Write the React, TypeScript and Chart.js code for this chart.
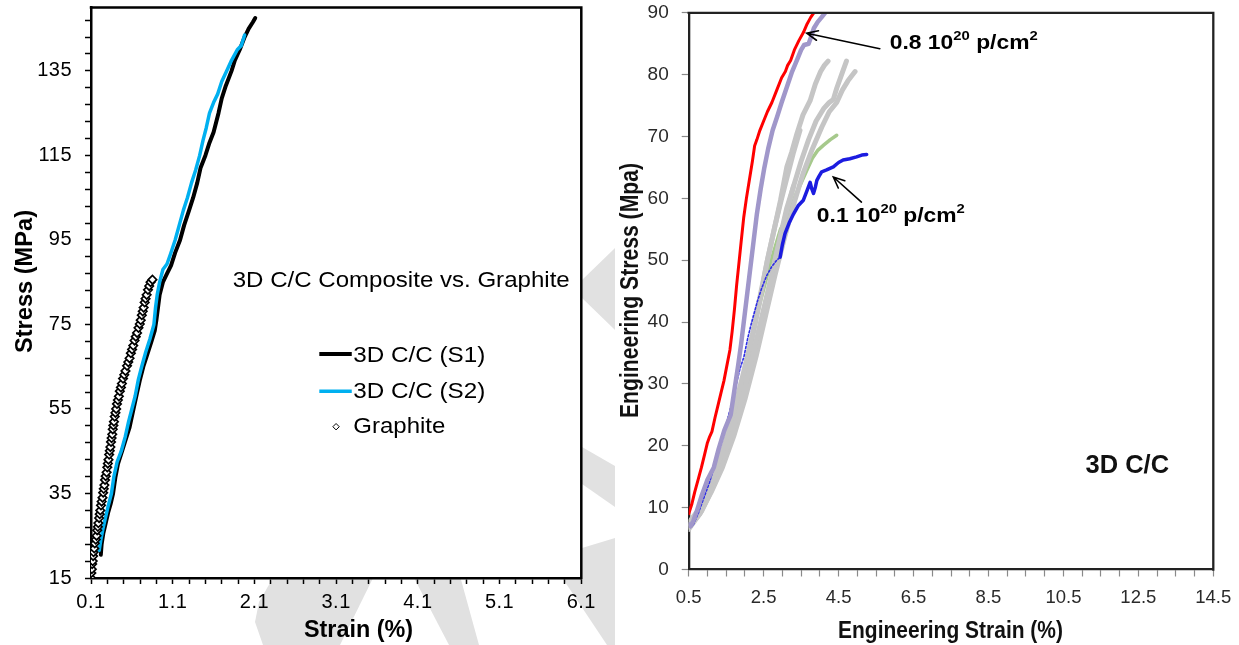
import React, { useEffect, useRef } from 'react';
import { Chart, registerables } from 'chart.js';

Chart.register(...registerables);

const FONT = '"Liberation Sans", Arial, Helvetica, sans-serif';

type P = [number, number];

// ---------------- Left chart data: [strain %, stress MPa] ----------------
const graphite: P[] = [
  [0.100, 15.0], [0.104, 16.2], [0.110, 17.1], [0.114, 18.3], [0.121, 19.0], [0.126, 20.2],
  [0.131, 21.1], [0.140, 22.0], [0.146, 23.2], [0.158, 24.1], [0.168, 25.0], [0.176, 26.3],
  [0.184, 27.1], [0.190, 28.0], [0.199, 29.2], [0.207, 30.1], [0.214, 31.0], [0.222, 32.2],
  [0.230, 33.1], [0.241, 34.0], [0.249, 35.2], [0.256, 36.1], [0.264, 37.0], [0.272, 38.2],
  [0.280, 39.1], [0.291, 40.0], [0.299, 41.2], [0.306, 42.1], [0.314, 43.0], [0.322, 44.2],
  [0.330, 45.1], [0.337, 46.0], [0.345, 47.2], [0.352, 48.1], [0.360, 49.0], [0.366, 50.2],
  [0.374, 51.1], [0.381, 52.0], [0.390, 53.2], [0.399, 54.1], [0.408, 55.0], [0.418, 56.2],
  [0.429, 57.1], [0.441, 58.0], [0.453, 59.2], [0.466, 60.1], [0.478, 61.0], [0.492, 62.2],
  [0.507, 63.1], [0.522, 64.0], [0.541, 65.2], [0.556, 66.1], [0.572, 67.0], [0.588, 68.2],
  [0.603, 69.1], [0.617, 70.0], [0.633, 71.2], [0.648, 72.1], [0.664, 73.0], [0.681, 74.2],
  [0.697, 75.1], [0.709, 76.0], [0.722, 77.2], [0.733, 78.1], [0.744, 79.0], [0.757, 80.2],
  [0.768, 81.1], [0.781, 82.0], [0.797, 83.2], [0.812, 84.1], [0.829, 85.0], [0.852, 85.6],
];

const s1: P[] = [
  [0.22, 20.5], [0.23, 23], [0.25, 25.5], [0.28, 28], [0.31, 30.5], [0.34, 32.5], [0.37, 35],
  [0.40, 39], [0.43, 42], [0.48, 45], [0.52, 47.5], [0.57, 50.5], [0.62, 55], [0.66, 58.5],
  [0.70, 62], [0.74, 65], [0.79, 68], [0.84, 71], [0.88, 73.5], [0.90, 76], [0.92, 79],
  [0.94, 82], [0.98, 85], [1.03, 87], [1.08, 89], [1.13, 92], [1.19, 95], [1.24, 98.5],
  [1.30, 102], [1.35, 105], [1.40, 108.5], [1.44, 112], [1.50, 115], [1.55, 118], [1.60, 120.5],
  [1.66, 125], [1.70, 128.5], [1.75, 131.5], [1.82, 135], [1.86, 137.5], [1.92, 140],
  [1.98, 143], [2.03, 145], [2.08, 146.5], [2.11, 147.5],
];

const s2: P[] = [
  [0.20, 21.5], [0.22, 24], [0.25, 27], [0.28, 29.5], [0.31, 32], [0.35, 35], [0.38, 39],
  [0.42, 42.5], [0.47, 45], [0.52, 48.5], [0.56, 52], [0.60, 55], [0.64, 58], [0.68, 62],
  [0.72, 65], [0.77, 68.5], [0.82, 71.5], [0.87, 75], [0.89, 79], [0.91, 82], [0.94, 85],
  [0.98, 88], [1.03, 89.3], [1.07, 91.5], [1.13, 95], [1.18, 98.5], [1.23, 102], [1.28, 105],
  [1.33, 108.5], [1.38, 111.5], [1.43, 115], [1.47, 118.5], [1.51, 121.5], [1.55, 125],
  [1.60, 127.5], [1.65, 129.5], [1.70, 132.5], [1.76, 135], [1.82, 137.5], [1.89, 140],
  [1.94, 141], [1.98, 143.5],
];

const leftXMajor = [0.1, 1.1, 2.1, 3.1, 4.1, 5.1, 6.1];
const leftXMinorStep = 0.2;
const leftYMajor = [15, 35, 55, 75, 95, 115, 135];
const leftYMinorStep = 4;
const leftYMax = 150;

// ---------------- Right chart data: [engineering strain %, stress MPa] ----------------
const red08: P[] = [
  [0.50, 9.0], [0.58, 10.5], [0.66, 12.5], [0.75, 14.5], [0.84, 16.5], [0.92, 18.5],
  [1.00, 20.5], [1.06, 21.5], [1.12, 22.3], [1.20, 24.5], [1.28, 26.5], [1.36, 28.5],
  [1.44, 30.5], [1.52, 33], [1.60, 35.5], [1.66, 38.5], [1.72, 42], [1.78, 46], [1.84, 49.5],
  [1.90, 53], [1.97, 57], [2.04, 60], [2.12, 63], [2.20, 66], [2.26, 68.5], [2.32, 69.5],
  [2.40, 71], [2.50, 72.5], [2.60, 74], [2.72, 75.5], [2.85, 77.5], [2.98, 79.5], [3.08, 80.5],
  [3.14, 81.5], [3.22, 82.3], [3.32, 84], [3.44, 85.5], [3.56, 86.8], [3.66, 88.2],
  [3.76, 89.3], [3.84, 90],
];

const purple08: P[] = [
  [0.50, 7.3], [0.55, 7.0], [0.62, 7.8], [0.72, 9.5], [0.85, 12], [1.00, 14.5], [1.17, 16.5],
  [1.30, 19.5], [1.45, 22.5], [1.62, 25], [1.72, 29], [1.82, 33], [1.90, 36.5], [1.97, 40],
  [2.05, 44], [2.13, 48], [2.22, 52.5], [2.32, 57.5], [2.42, 61.5], [2.52, 65], [2.62, 68],
  [2.74, 71], [2.86, 73.2], [2.98, 75.5], [3.12, 78], [3.26, 80.5], [3.40, 82.5], [3.50, 84],
  [3.58, 84.8], [3.70, 85], [3.76, 86], [3.84, 87.5], [3.94, 88.5], [4.05, 89.3], [4.14, 90],
];

const blueLow01: P[] = [
  [0.55, 6.8], [0.62, 7.2], [0.75, 9], [0.90, 11.5], [1.05, 14], [1.20, 17], [1.35, 20],
  [1.50, 23.5], [1.62, 26.2], [1.75, 29.5], [1.87, 32.5], [1.97, 34.3], [2.08, 37.5],
  [2.16, 39.5], [2.24, 41.3], [2.34, 43.5], [2.45, 45.5], [2.58, 47.5], [2.72, 49],
  [2.85, 50], [2.94, 50.5],
];

const blueHigh01: P[] = [
  [2.94, 50.5], [3.00, 52.5], [3.07, 54.3], [3.18, 56], [3.30, 57.5], [3.42, 58.8],
  [3.56, 59.7], [3.66, 61.3], [3.74, 62.6], [3.78, 61.6], [3.83, 60.8], [3.88, 61.8],
  [3.92, 62.9], [3.98, 63.6], [4.05, 64.3], [4.18, 64.6], [4.36, 65.1], [4.50, 65.8],
  [4.62, 66.2], [4.80, 66.4], [4.98, 66.7], [5.12, 67.0], [5.25, 67.1],
];

const green: P[] = [
  [0.55, 7.2], [0.90, 11], [1.30, 17], [1.70, 25], [2.05, 34], [2.40, 43], [2.70, 50],
  [2.95, 55], [3.21, 58], [3.35, 60.5], [3.50, 62.5], [3.65, 64.5], [3.80, 66.5],
  [3.95, 67.8], [4.10, 68.6], [4.28, 69.5], [4.45, 70.2],
];

const grey1: P[] = [
  [0.50, 7.5], [0.70, 9], [0.95, 12], [1.20, 15.5], [1.45, 20], [1.70, 25.5], [1.95, 31.5],
  [2.20, 38], [2.40, 44], [2.60, 50], [2.80, 55.5], [2.95, 59.7], [3.12, 65.1], [3.25, 67.5],
  [3.39, 70.5], [3.55, 73.5], [3.74, 75.8], [3.88, 78.5], [4.02, 80.5], [4.12, 81.5], [4.22, 82.2],
];
const grey2: P[] = [
  [0.50, 7], [0.75, 9], [1.00, 12], [1.30, 16], [1.60, 21], [1.90, 27], [2.15, 33],
  [2.40, 39.5], [2.65, 46], [2.90, 52.5], [3.10, 57.5], [3.30, 62], [3.50, 66], [3.70, 69.5],
  [3.90, 72.5], [4.10, 74.5], [4.25, 75.5], [4.36, 76], [4.45, 77.8], [4.58, 80], [4.71, 82.2],
];
const grey3: P[] = [
  [0.50, 6.8], [0.80, 9], [1.10, 12.5], [1.40, 16.5], [1.70, 21.5], [2.00, 27.5], [2.30, 34.5],
  [2.55, 41], [2.80, 47.5], [3.05, 53.5], [3.30, 59], [3.55, 64], [3.80, 68], [4.05, 71.5],
  [4.25, 74], [4.45, 75.5], [4.60, 77.5], [4.75, 79], [4.94, 80.5],
];
const grey4: P[] = [
  [0.50, 7.5], [0.80, 10], [1.10, 13.5], [1.40, 18], [1.65, 23], [1.90, 29], [2.15, 36],
  [2.40, 43.5], [2.60, 50], [2.80, 55.5], [2.98, 60], [3.15, 64], [3.30, 67.5], [3.47, 71],
];
const grey5: P[] = [
  [0.50, 6.5], [0.85, 9.5], [1.20, 14], [1.55, 19.5], [1.85, 25.5], [2.15, 32.5], [2.45, 40],
  [2.70, 47], [2.95, 54], [3.12, 58.5], [3.30, 62],
];

const rightXMajor = [0.5, 2.5, 4.5, 6.5, 8.5, 10.5, 12.5, 14.5];
const rightXMinorStep = 0.5;
const rightYMajor = [0, 10, 20, 30, 40, 50, 60, 70, 80, 90];

// ---------------- helpers ----------------
const xy = (a: P[]) => a.map(([x, y]) => ({ x, y }));

function stepTicks(min: number, max: number, step: number): number[] {
  const out: number[] = [];
  const n = Math.round((max - min) / step);
  for (let i = 0; i <= n; i++) out.push(Math.round((min + i * step) * 1000) / 1000);
  return out;
}
const isMajor = (v: number, majors: number[]) => majors.some((m) => Math.abs(m - v) < 1e-6);

function fitText(
  ctx: CanvasRenderingContext2D, text: string, x: number, y: number, font: string,
  targetW: number, align: CanvasTextAlign, color: string, rotate = false,
) {
  ctx.save();
  ctx.font = font;
  const w = ctx.measureText(text).width;
  ctx.translate(x, y);
  if (rotate) ctx.rotate(-Math.PI / 2);
  ctx.scale(targetW / w, 1);
  ctx.textAlign = align;
  ctx.textBaseline = 'alphabetic';
  ctx.fillStyle = color;
  ctx.fillText(text, 0, 0);
  ctx.restore();
}

type Seg = { t: string; sup?: boolean };
function richText(ctx: CanvasRenderingContext2D, segs: Seg[], x: number, y: number, size: number, supSize: number, raise: number, targetW: number) {
  ctx.save();
  const fm = `bold ${size}px ${FONT}`;
  const fs = `bold ${supSize}px ${FONT}`;
  let total = 0;
  const ws = segs.map((s) => { ctx.font = s.sup ? fs : fm; const w = ctx.measureText(s.t).width; total += w; return w; });
  ctx.translate(x, y);
  ctx.scale(targetW / total, 1);
  ctx.textAlign = 'left';
  ctx.textBaseline = 'alphabetic';
  ctx.fillStyle = '#000';
  let cx = 0;
  segs.forEach((s, i) => { ctx.font = s.sup ? fs : fm; ctx.fillText(s.t, cx, s.sup ? -raise : 0); cx += ws[i]; });
  ctx.restore();
}

function arrow(ctx: CanvasRenderingContext2D, x1: number, y1: number, x2: number, y2: number) {
  const ang = Math.atan2(y2 - y1, x2 - x1);
  const L = 12, A = 0.42;
  ctx.save();
  ctx.strokeStyle = '#000';
  ctx.lineWidth = 1.6;
  ctx.lineCap = 'round';
  ctx.beginPath();
  ctx.moveTo(x1, y1); ctx.lineTo(x2, y2);
  ctx.moveTo(x2 - L * Math.cos(ang - A), y2 - L * Math.sin(ang - A));
  ctx.lineTo(x2, y2);
  ctx.lineTo(x2 - L * Math.cos(ang + A), y2 - L * Math.sin(ang + A));
  ctx.stroke();
  ctx.restore();
}

function boxTopRight(chart: any, color: string, width: number) {
  const { ctx, chartArea: a } = chart;
  ctx.save();
  ctx.strokeStyle = color;
  ctx.lineWidth = width;
  ctx.beginPath();
  ctx.moveTo(a.left - width / 2, a.top);
  ctx.lineTo(a.right, a.top);
  ctx.lineTo(a.right, a.bottom + width / 2);
  ctx.stroke();
  ctx.restore();
}

const noScalePad = (s: any) => {
  s.paddingTop = 0;
  s.paddingBottom = 0;
  s.paddingLeft = 0;
  s.paddingRight = 0;
};

// page watermark (light grey bands behind the figures)
const WATERMARK: P[][] = [
  [[263, 645], [255, 622], [259, 602], [274, 576], [374, 576], [340, 645]],
  [[413, 576], [460, 576], [479, 645], [449, 645]],
  [[582, 280], [615, 248], [615, 330], [582, 298]],
  [[582, 447], [615, 466], [615, 507], [582, 484]],
  [[561, 576], [582, 548], [615, 538], [615, 645], [607, 645]],
];

// ---------------- Left chart ----------------
function leftConfig(): any {
  const xTicks = stepTicks(leftXMajor[0], leftXMajor[leftXMajor.length - 1], leftXMinorStep);
  const yTicks = stepTicks(leftYMajor[0], leftYMax - 3, leftYMinorStep);
  const plugin = {
    id: 'leftDecor',
    beforeDraw(chart: any) {
      const { ctx, chartArea: a } = chart;
      ctx.save();
      ctx.fillStyle = '#e1e1e1';
      for (const poly of WATERMARK) {
        ctx.beginPath();
        poly.forEach(([x, y], i) => (i ? ctx.lineTo(x, y) : ctx.moveTo(x, y)));
        ctx.closePath();
        ctx.fill();
      }
      ctx.fillStyle = '#fff';
      ctx.fillRect(a.left, a.top, a.right - a.left, a.bottom - a.top);
      ctx.restore();
      (ctx as any).letterSpacing = '0.5px';
    },
    afterDraw(chart: any) {
      const { ctx } = chart;
      (ctx as any).letterSpacing = '0px';
      boxTopRight(chart, '#000', 2.5);
      const xs = chart.scales.x, ys = chart.scales.y;
      const px = (v: number) => xs.getPixelForValue(v);
      const py = (v: number) => ys.getPixelForValue(v);
      // annotation
      fitText(ctx, '3D C/C Composite vs. Graphite', px(1.834), py(83.9), `22px ${FONT}`, 337, 'left', '#000');
      // legend
      const ds = chart.data.datasets;
      const rows = [
        { d: ds[2], ly: 68.0, ty: 66.1, w: 132 },
        { d: ds[1], ly: 59.2, ty: 57.5, w: 132 },
        { d: ds[0], ly: 50.8, ty: 49.2, w: 92 },
      ];
      rows.forEach((r) => {
        ctx.save();
        if (r.d.showLine) {
          ctx.strokeStyle = r.d.borderColor;
          ctx.lineWidth = r.d.borderWidth;
          ctx.beginPath();
          ctx.moveTo(px(2.894), py(r.ly));
          ctx.lineTo(px(3.291), py(r.ly));
          ctx.stroke();
        } else {
          const cx = px(3.099), cy = py(r.ly), s = 3.2;
          ctx.fillStyle = '#fff';
          ctx.strokeStyle = '#000';
          ctx.lineWidth = 1;
          ctx.beginPath();
          ctx.moveTo(cx, cy - s); ctx.lineTo(cx + s, cy); ctx.lineTo(cx, cy + s); ctx.lineTo(cx - s, cy);
          ctx.closePath();
          ctx.fill(); ctx.stroke();
        }
        ctx.restore();
        fitText(ctx, r.d.label, px(3.31), py(r.ty), `22px ${FONT}`, r.w, 'left', '#000');
      });
      // axis titles
      fitText(ctx, 'Stress (MPa)', 31.5, 281.5, `bold 24px ${FONT}`, 143, 'center', '#000', true);
      fitText(ctx, 'Strain (%)', 358.5, 637.3, `bold 24px ${FONT}`, 109, 'center', '#000');
    },
  };
  return {
    type: 'scatter',
    data: {
      datasets: [
        {
          label: 'Graphite', data: xy(graphite), showLine: false, pointStyle: 'rectRot',
          pointRadius: 4.2, pointBorderWidth: 1.7, pointBorderColor: '#000', pointBackgroundColor: '#fff',
        },
        {
          label: '3D C/C (S2)', data: xy(s2), showLine: true, borderColor: '#00b0f0', borderWidth: 3.5,
          pointRadius: 0, borderJoinStyle: 'round', borderCapStyle: 'round',
        },
        {
          label: '3D C/C (S1)', data: xy(s1), showLine: true, borderColor: '#000', borderWidth: 4,
          pointRadius: 0, borderJoinStyle: 'round', borderCapStyle: 'round',
        },
      ],
    },
    options: {
      responsive: false, maintainAspectRatio: false, animation: false, devicePixelRatio: 1, events: [],
      layout: { padding: { top: 7.5, right: 33.7, left: 0, bottom: 0 } },
      plugins: { legend: { display: false }, tooltip: { enabled: false } },
      scales: {
        x: {
          type: 'linear', min: leftXMajor[0], max: leftXMajor[leftXMajor.length - 1],
          afterBuildTicks: (s: any) => { s.ticks = xTicks.map((v) => ({ value: v })); },
          afterFit: (s: any) => { s.height = 67; noScalePad(s); },
          grid: { display: true, drawOnChartArea: false, drawTicks: true, tickLength: 6, tickColor: '#000', tickWidth: 1.5 },
          border: { display: true, color: '#000', width: 2.5 },
          ticks: {
            autoSkip: false, maxRotation: 0, minRotation: 0, padding: 6, color: '#000',
            font: { family: FONT, size: 20 },
            callback: (v: number) => (isMajor(v, leftXMajor) ? v.toFixed(1) : ''),
          },
        },
        y: {
          type: 'linear', min: leftYMajor[0], max: leftYMax,
          afterBuildTicks: (s: any) => { s.ticks = yTicks.map((v) => ({ value: v })); },
          afterFit: (s: any) => { s.width = 91; noScalePad(s); },
          grid: { display: true, drawOnChartArea: false, drawTicks: true, tickLength: 6, tickColor: '#000', tickWidth: 1.5 },
          border: { display: true, color: '#000', width: 2.5 },
          ticks: {
            autoSkip: false, padding: 13, color: '#000',
            font: { family: FONT, size: 20 },
            callback: (v: number) => (isMajor(v, leftYMajor) ? String(v) : ''),
          },
        },
      },
    },
    plugins: [plugin],
  };
}

// ---------------- Right chart ----------------
function rightConfig(): any {
  const xTicks = stepTicks(rightXMajor[0], rightXMajor[rightXMajor.length - 1], rightXMinorStep);
  const yTicks = rightYMajor;
  const line = (label: string, data: P[], color: string, width: number, extra: any = {}) => ({
    label, data: xy(data), showLine: true, borderColor: color, borderWidth: width, pointRadius: 0,
    borderJoinStyle: 'round', borderCapStyle: 'round', ...extra,
  });
  const greyC = '#c5c5c5';
  const plugin = {
    id: 'rightDecor',
    beforeDraw(chart: any) {
      const { ctx } = chart;
      ctx.save();
      ctx.fillStyle = '#fff';
      ctx.fillRect(0, 0, chart.width, chart.height);
      ctx.restore();
    },
    afterDraw(chart: any) {
      const { ctx } = chart;
      boxTopRight(chart, '#222', 2.3);
      const xs = chart.scales.x, ys = chart.scales.y;
      const px = (v: number) => xs.getPixelForValue(v);
      const py = (v: number) => ys.getPixelForValue(v);
      const segs: Seg[] = [{ t: '0.8 10' }, { t: '20', sup: true }, { t: ' p/cm' }, { t: '2', sup: true }];
      richText(ctx, segs, px(5.865), py(84.1), 20, 13, 9, 148);
      arrow(ctx, px(5.60), py(84.2), px(3.65), py(86.7));
      const segs2: Seg[] = [{ t: '0.1 10' }, { t: '20', sup: true }, { t: ' p/cm' }, { t: '2', sup: true }];
      richText(ctx, segs2, px(3.92), py(56.2), 20, 13, 9, 148);
      arrow(ctx, px(5.11), py(59.4), px(4.36), py(63.45));
      fitText(ctx, '3D C/C', px(11.09), py(15.65), `bold 25px ${FONT}`, 83.5, 'left', '#111');
      // axis titles
      fitText(ctx, 'Engineering Stress (Mpa)', 23, 290.5, `bold 25px ${FONT}`, 255, 'center', '#111', true);
      fitText(ctx, 'Engineering Strain (%)', 335.5, 638, `bold 23px ${FONT}`, 225, 'center', '#111');
    },
  };
  return {
    type: 'scatter',
    data: {
      datasets: [
        line('0.8 (red)', red08, '#ff0000', 3),
        line('0.8 (purple)', purple08, '#a097ca', 4.5),
        line('0.1 (blue)', blueHigh01, '#1c1ce0', 3.5),
        line('0.1 (blue, low)', blueLow01, '#2b2be6', 1.6, { borderDash: [2, 2] }),
        line('grey 1', grey1, greyC, 5),
        line('grey 2', grey2, greyC, 5),
        line('grey 3', grey3, greyC, 5),
        line('grey 4', grey4, greyC, 5),
        line('grey 5', grey5, greyC, 5),
        line('green', green, '#a6c98c', 3.5),
      ],
    },
    options: {
      responsive: false, maintainAspectRatio: false, animation: false, devicePixelRatio: 1, events: [],
      layout: { padding: { top: 12.8, right: 25.7, left: 0, bottom: 0 } },
      plugins: { legend: { display: false }, tooltip: { enabled: false } },
      scales: {
        x: {
          type: 'linear', min: rightXMajor[0], max: rightXMajor[rightXMajor.length - 1],
          afterBuildTicks: (s: any) => { s.ticks = xTicks.map((v) => ({ value: v })); },
          afterFit: (s: any) => { s.height = 75.5; noScalePad(s); },
          grid: { display: true, drawOnChartArea: false, drawTicks: true, tickLength: 7, tickColor: '#8a8a8a', tickWidth: 1.2 },
          border: { display: true, color: '#222', width: 2.3 },
          ticks: {
            autoSkip: false, maxRotation: 0, minRotation: 0, padding: 10.5, color: '#2a2a2a',
            font: { family: FONT, size: 18.5 },
            callback: (v: number) => (isMajor(v, rightXMajor) ? v.toFixed(1) : ''),
          },
        },
        y: {
          type: 'linear', min: rightYMajor[0], max: rightYMajor[rightYMajor.length - 1],
          afterBuildTicks: (s: any) => { s.ticks = yTicks.map((v) => ({ value: v })); },
          afterFit: (s: any) => { s.width = 73.7; noScalePad(s); },
          grid: { display: true, drawOnChartArea: false, drawTicks: true, tickLength: 7, tickColor: '#8a8a8a', tickWidth: 1.2 },
          border: { display: true, color: '#222', width: 2.3 },
          ticks: {
            autoSkip: false, padding: 13, color: '#2a2a2a',
            font: { family: FONT, size: 19 },
            callback: (v: number) => String(v),
          },
        },
      },
    },
    plugins: [plugin],
  };
}

export default function App() {
  const leftRef = useRef<HTMLCanvasElement>(null);
  const rightRef = useRef<HTMLCanvasElement>(null);
  useEffect(() => {
    const c1 = new Chart(leftRef.current as HTMLCanvasElement, leftConfig());
    const c2 = new Chart(rightRef.current as HTMLCanvasElement, rightConfig());
    return () => {
      c1.destroy();
      c2.destroy();
    };
  }, []);
  return (
    <div style={{ position: 'fixed', left: 0, top: 0, width: 1239, height: 645, background: '#fff', overflow: 'hidden' }}>
      <canvas ref={leftRef} width={615} height={645} style={{ position: 'absolute', left: 0, top: 0, width: 615, height: 645 }} />
      <canvas ref={rightRef} width={624} height={645} style={{ position: 'absolute', left: 615, top: 0, width: 624, height: 645 }} />
    </div>
  );
}
